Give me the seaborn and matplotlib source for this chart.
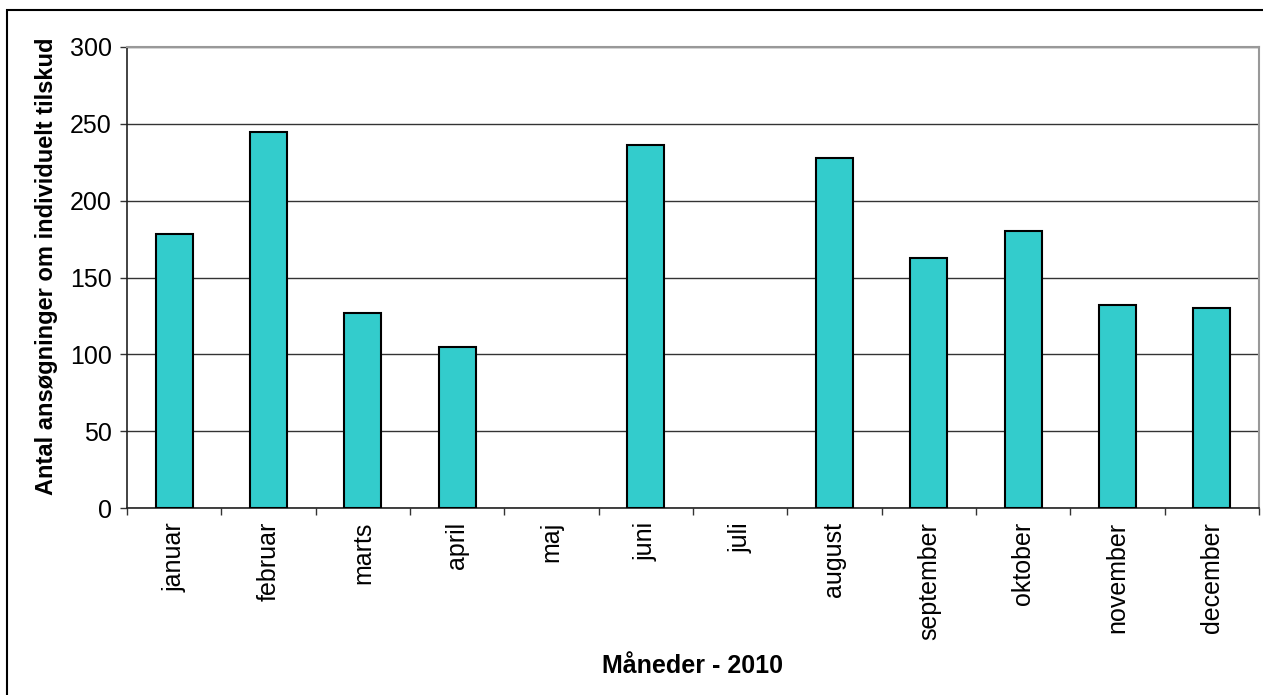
import matplotlib
matplotlib.use("Agg")
import matplotlib.pyplot as plt
import seaborn as sns
import pandas as pd
import numpy as np
from matplotlib.patches import Rectangle

months = ["januar", "februar", "marts", "april", "maj", "juni", "juli",
          "august", "september", "oktober", "november", "december"]
values = [178, 245, 127, 105, 0, 236, 0, 228, 163, 180, 132, 130]
y_ticks = [0, 50, 100, 150, 200, 250, 300]

sns.set_theme(style="white")
plt.rcParams['font.family'] = ['Liberation Sans', 'DejaVu Sans']

df = pd.DataFrame({"month": months, "value": values})

fig = plt.figure(figsize=(12.63, 6.95), dpi=100)
ax = fig.add_axes([127/1263, (695-508)/695, (1259-127)/1263, (508-47)/695])

sns.barplot(data=df, x="month", y="value", color="#33CCCC", saturation=1,
            width=0.39, edgecolor="black", linewidth=1.5, ax=ax, zorder=3)
for p in ax.patches:
    if p.get_height() == 0:
        p.set_visible(False)

ax.set_xlim(-0.5, len(months) - 0.5)
ax.set_ylim(0, 300)
ax.set_yticks(y_ticks)
ax.set_yticklabels([str(v) for v in y_ticks], fontsize=18, color="black")
ax.yaxis.grid(True, color="#333333", linewidth=1.0, zorder=0)
ax.xaxis.grid(False)
ax.set_axisbelow(True)

ax.set_xticks(range(len(months)))
ax.set_xticklabels(months, rotation=90, fontsize=18, va="top", color="black")
ax.set_xticks(np.arange(-0.5, len(months), 1.0), minor=True)
ax.tick_params(axis="x", which="major", length=0, pad=10)
ax.tick_params(axis="x", which="minor", length=5, width=1, color="#333333", direction="out", bottom=True)
ax.tick_params(axis="y", which="major", length=5, width=1, color="#333333", direction="out", left=True, pad=6)

for side in ["left", "bottom"]:
    ax.spines[side].set_color("#222222")
    ax.spines[side].set_linewidth(1.2)
for side in ["top", "right"]:
    ax.spines[side].set_visible(True)
    ax.spines[side].set_color("#999999")
    ax.spines[side].set_linewidth(1.5)

ax.set_xlabel("Måneder - 2010", fontsize=18, fontweight="bold", labelpad=10, color="black")
ax.set_ylabel("Antal ansøgninger om individuelt tilskud", fontsize=17, fontweight="bold", color="black")
ax.yaxis.set_label_coords(-69/1132, (508-266)/461)

# outer chart border
fig.patches.append(Rectangle((7/1263, -0.01), 1.02, 1 - 10/695 + 0.01,
                             transform=fig.transFigure, fill=False,
                             edgecolor="black", linewidth=1.5, zorder=0))

fig.savefig("out.png", dpi=100)
